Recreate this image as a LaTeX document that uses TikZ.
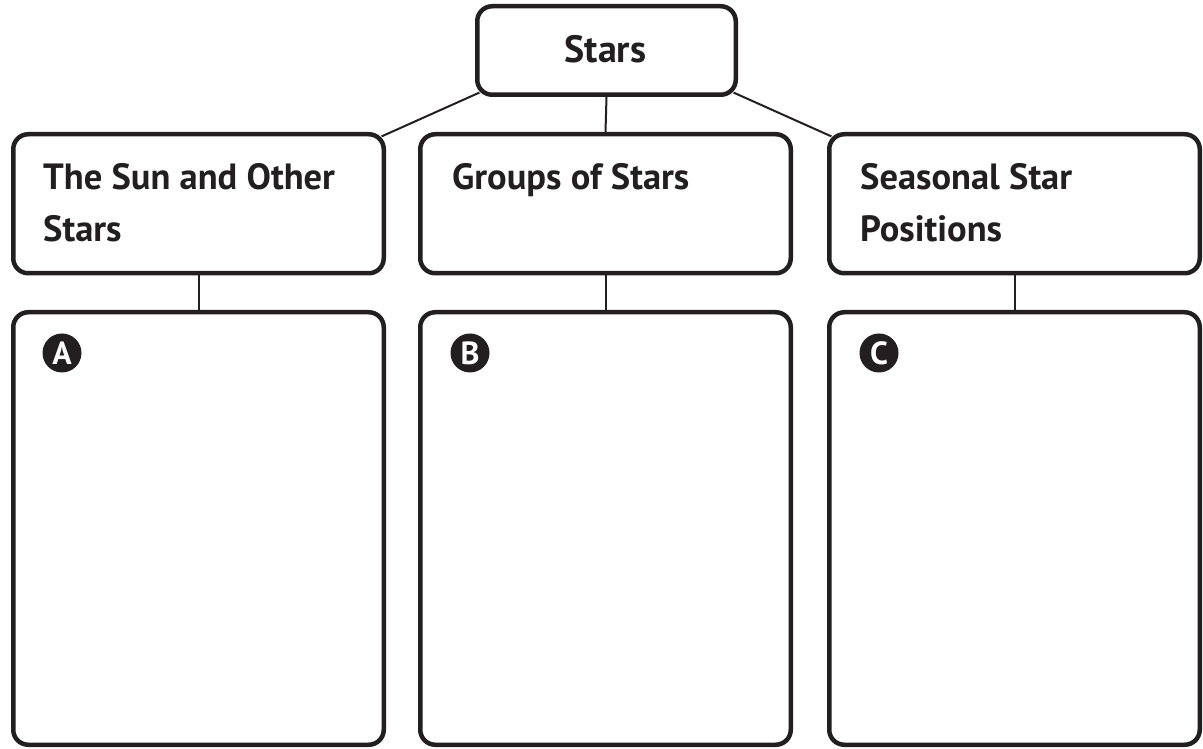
\documentclass[tikz,border=0pt]{standalone}
\usepackage{fontspec}
\setmainfont{PT Sans}
\usetikzlibrary{calc}
\definecolor{ink}{HTML}{231F20}
\tikzset{
  box/.style={draw=ink, line width=4.5pt, rounded corners=15pt, fill=white, inner sep=0pt},
  conn/.style={draw=ink, line width=2pt},
  lbl/.style={font=\bfseries\fontsize{36.5}{52}\selectfont, text=ink, align=left, inner sep=0pt, anchor=base west},
  badge/.style={circle, fill=ink, minimum size=39pt, inner sep=0pt, text=white, font=\bfseries\fontsize{32}{32}\selectfont}
}
\begin{document}
\begin{tikzpicture}[x=1pt,y=1pt]
\useasboundingbox (0,0) rectangle (1203,748);
% top
\node[box, minimum width=258.5pt, minimum height=88.5pt] (top) at (606.5,697.5) {};
\node[font=\bfseries\fontsize{38}{38}\selectfont, text=ink, inner sep=0pt, anchor=base] (toplbl) at (605.5,685) {Stars};
% middle boxes
\node[box, minimum width=370.5pt, minimum height=139pt] (m1) at (198.5,544.25) {};
\node[box, minimum width=370.5pt, minimum height=139pt] (m2) at (605.5,544.25) {};
\node[box, minimum width=370.5pt, minimum height=139pt] (m3) at (1014.5,544.25) {};
% bottom boxes
\node[box, minimum width=370.5pt, minimum height=432.5pt] (b1) at (198.5,219.5) {};
\node[box, minimum width=370.5pt, minimum height=432.5pt] (b2) at (605.5,219.5) {};
\node[box, minimum width=370.5pt, minimum height=432.5pt] (b3) at (1014.5,219.5) {};
% labels (multi-line nodes: base = last line)
\node[lbl] (t1) at (43,506) {The Sun and Other\\Stars};
\node[lbl] (t2) at (452,558) {Groups of Stars};
\node[lbl] (t3) at (860,506) {Seasonal Star\\Positions};
% badges
\node[badge] (ba) at (62,395) {A};
\node[badge] (bb) at (470,395) {B};
\node[badge] (bc) at (879,395) {C};
% connectors
\draw[conn] (top.south) -- (m2.north);
\draw[conn] ($(top.south west)+(4.4,4.4)$) -- ($(m1.north east)+(-4.4,-4.4)$);
\draw[conn] ($(top.south east)+(-4.4,4.4)$) -- ($(m3.north west)+(4.4,-4.4)$);
\draw[conn] (m1.south) -- (b1.north);
\draw[conn] (m2.south) -- (b2.north);
\draw[conn] (m3.south) -- (b3.north);
\end{tikzpicture}
\end{document}
